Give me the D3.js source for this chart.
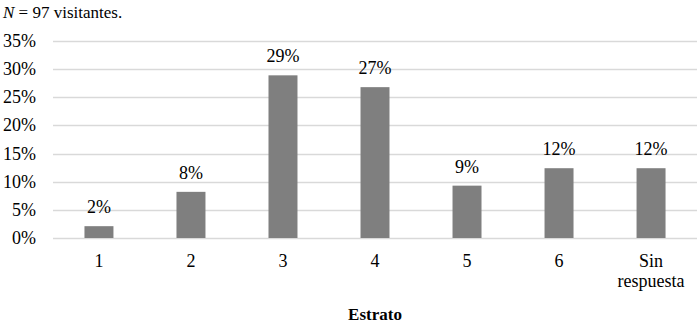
<!DOCTYPE html>
<html>
<head>
<meta charset="utf-8">
<script src="https://cdn.jsdelivr.net/npm/d3@7"></script>
<style>
  body { margin: 0; background: #fff; }
  svg text, svg tspan { font-family: "Liberation Serif", "Times New Roman" !important; }
</style>
</head>
<body>
<div id="canvas"></div>
<script>
const categories = ["1", "2", "3", "4", "5", "6", "Sin respuesta"];
const values = [2.1, 8.2, 28.9, 26.8, 9.3, 12.4, 12.4];
const valueLabels = ["2%", "8%", "29%", "27%", "9%", "12%", "12%"];
const yTicks = [0, 5, 10, 15, 20, 25, 30, 35];

const width = 698;
const height = 335;
const margin = { top: 41, left: 53, bottom: 97, right: 1 };
const iwidth = width - margin.left - margin.right;
const iheight = height - margin.top - margin.bottom;
const font = "'Liberation Serif', 'Times New Roman'";

const svg = d3.select("#canvas").append("svg")
  .attr("width", width)
  .attr("height", height)
  .attr("font-family", font);

svg.append("text")
  .attr("x", 3)
  .attr("y", 18)
  .attr("font-family", font)
  .style("font-family", font, "important")
  .style("font-size", "17px")
  .call((t) => {
    t.append("tspan").style("font-style", "italic").text("N");
    t.append("tspan").text(" = 97 visitantes.");
  });

const g = svg.append("g")
  .attr("transform", `translate(${margin.left},${margin.top})`);

const x = d3.scaleBand()
  .domain(categories)
  .range([0, iwidth])
  .paddingInner(0.685)
  .paddingOuter(0.342);

const y = d3.scaleLinear()
  .domain([0, 35])
  .range([iheight, 0]);

// gridlines
g.selectAll(".grid")
  .data(yTicks)
  .enter()
  .append("line")
  .attr("class", "grid")
  .attr("x1", 0)
  .attr("x2", iwidth)
  .attr("y1", (d) => Math.round(y(d)) + 0.5)
  .attr("y2", (d) => Math.round(y(d)) + 0.5)
  .attr("stroke", "#d9d9d9")
  .attr("stroke-width", 1.3);

// y tick labels
g.selectAll(".ytick")
  .data(yTicks)
  .enter()
  .append("text")
  .attr("class", "ytick")
  .attr("text-anchor", "end")
  .attr("font-family", font)
  .style("font-family", font, "important")
  .style("font-size", "18px")
  .attr("x", -17)
  .attr("y", (d) => y(d) + 6)
  .text((d) => d + "%");

// bars
g.selectAll(".bar")
  .data(values)
  .enter()
  .append("rect")
  .attr("class", "bar")
  .attr("x", (d, i) => x(categories[i]))
  .attr("y", (d) => y(d))
  .attr("width", x.bandwidth())
  .attr("height", (d) => iheight - y(d))
  .style("fill", "#7f7f7f");

// value labels
g.selectAll(".label")
  .data(values)
  .enter()
  .append("text")
  .attr("class", "label")
  .attr("text-anchor", "middle")
  .attr("font-family", font)
  .style("font-family", font, "important")
  .style("font-size", "18px")
  .attr("x", (d, i) => x(categories[i]) + x.bandwidth() / 2)
  .attr("y", (d) => y(d) - 13)
  .text((d, i) => valueLabels[i]);

// category labels
g.selectAll(".cat")
  .data(categories)
  .enter()
  .append("text")
  .attr("class", "cat")
  .attr("text-anchor", "middle")
  .attr("font-family", font)
  .style("font-family", font, "important")
  .style("font-size", "18px")
  .attr("x", (d) => x(d) + x.bandwidth() / 2)
  .attr("y", iheight + 29)
  .each(function (d) {
    const words = d.split(" ");
    const t = d3.select(this);
    words.forEach((w, k) => {
      t.append("tspan")
        .attr("x", x(d) + x.bandwidth() / 2)
        .attr("dy", k === 0 ? 0 : 20)
        .text(w);
    });
  });

g.append("text")
  .attr("text-anchor", "middle")
  .attr("font-family", font)
  .style("font-family", font, "important")
  .style("font-size", "17px")
  .style("font-weight", "bold")
  .attr("x", iwidth / 2)
  .attr("y", iheight + 82)
  .text("Estrato");
</script>
</body>
</html>
